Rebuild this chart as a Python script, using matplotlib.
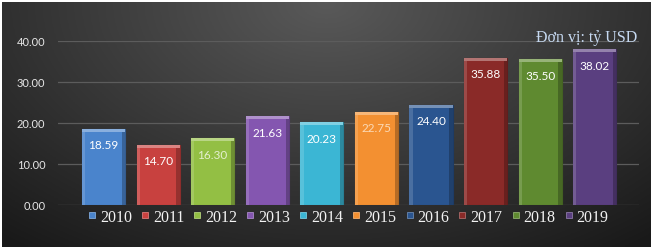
import numpy as np
import matplotlib
matplotlib.use('Agg')
import matplotlib.pyplot as plt
from matplotlib.lines import Line2D
from matplotlib.colors import to_rgb

# Data
years = ['2010', '2011', '2012', '2013', '2014', '2015', '2016', '2017', '2018', '2019']
values = [18.59, 14.70, 16.30, 21.63, 20.23, 22.75, 24.40, 35.88, 35.50, 38.02]
colors = ['#4a84cc', '#c8413f', '#93bf44', '#8456b0', '#3bb6d4',
          '#f39031', '#2a5590', '#8a2a28', '#5f8a30', '#5a3f80']
label_colors = ['white', 'white', '#e4efcf', 'white', 'white',
                '#fbd9b5', 'white', 'white', 'white', 'white']
yticks = [0, 10, 20, 30, 40]
unit_text = 'Đơn vị: tỷ USD'


def shade(c, f):
    r = np.array(to_rgb(c))
    if f > 0:
        return tuple(r + (1 - r) * f)
    return tuple(r * (1 + f))


fig = plt.figure(figsize=(6.57, 2.53), dpi=100)
fig.patch.set_facecolor('white')

# dark gradient panel
bg = fig.add_axes([2/657, 5/253, 649/657, 245/253])
xx, yy = np.meshgrid(np.linspace(-1, 1, 300), np.linspace(0, 1, 120))
dist = np.sqrt((xx * 0.9) ** 2 + (yy * 1.1) ** 2)
grad = 0.35 - 0.18 * dist
grad = np.clip(grad, 0.1, 0.4)
bg.imshow(np.dstack([grad, grad, grad]), aspect='auto', origin='upper',
          extent=[0, 1, 0, 1])
bg.axis('off')

ax = fig.add_axes([58/657, 47/253, 581/657, 164/253])
ax.patch.set_alpha(0)
x = np.arange(len(years))
width = 0.79

for i in range(len(years)):
    ax.bar(x[i], values[i], width=width, color=colors[i],
           edgecolor=shade(colors[i], -0.3), linewidth=0.8, zorder=3)
    # bevel on top and sides
    ax.bar(x[i], 0.7, bottom=values[i] - 0.7, width=width,
           color=shade(colors[i], 0.35), linewidth=0, zorder=4)
    ax.bar(x[i] - width/2 + 0.03, values[i] - 0.7, width=0.06,
           color=shade(colors[i], 0.15), linewidth=0, zorder=4)
    ax.bar(x[i] + width/2 - 0.03, values[i] - 0.7, width=0.06,
           color=shade(colors[i], -0.25), linewidth=0, zorder=4)
    ax.annotate(f'{values[i]:.2f}', (x[i], values[i]), xytext=(0, -11.5),
                textcoords='offset points', ha='center', va='center',
                color=label_colors[i], fontsize=8.5, family='Lato', zorder=5)

ax.set_xlim(-0.833, 9.81)
ax.set_ylim(0, 40)
ax.set_yticks(yticks)
ax.set_yticklabels([f'{v:.2f}' for v in yticks], color='#e6e6e6',
                   fontsize=8, family='Lato')
ax.tick_params(axis='y', length=0, pad=9)
ax.set_xticks([])
ax.grid(True, axis='y', color='#5c5c5c', linewidth=0.9, zorder=0)
for s in ax.spines.values():
    s.set_visible(False)

handles = [Line2D([], [], marker='s', linestyle='', markersize=4.5,
                  markerfacecolor=colors[i], markeredgecolor=shade(colors[i], 0.3),
                  markeredgewidth=0.6) for i in range(len(years))]
leg = fig.legend(handles, years, loc='center', bbox_to_anchor=(0.530, 0.140),
                 ncol=10, frameon=False, handlelength=0.5, handletextpad=0.25,
                 columnspacing=0.57, prop={'family': 'Liberation Serif', 'size': 11.5})
for t in leg.get_texts():
    t.set_color('#f2f2f2')

fig.text(637/657, 0.85, unit_text, ha='right', va='center', color='#c6d9f1',
         fontsize=11.5, family='Liberation Serif')

plt.savefig('out.png', dpi=100)
plt.close(fig)
